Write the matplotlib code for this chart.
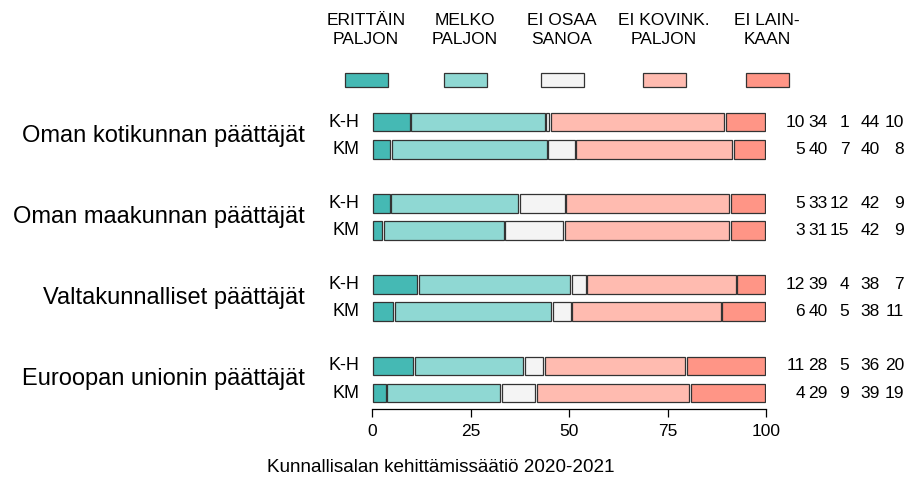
import matplotlib
matplotlib.use("Agg")
import matplotlib.pyplot as plt
from matplotlib.patches import Rectangle
import matplotlib.transforms as mtransforms
import numpy as np

plt.rcParams['font.family'] = ['Liberation Sans', 'DejaVu Sans']

groups = ["Oman kotikunnan päättäjät", "Oman maakunnan päättäjät",
          "Valtakunnalliset päättäjät", "Euroopan unionin päättäjät"]
rows = ["K-H", "KM"]
answers = ["ERITTÄIN\nPALJON", "MELKO\nPALJON", "EI OSAA\nSANOA",
           "EI KOVINK.\nPALJON", "EI LAIN-\nKAAN"]
colors = ["#45B9B4", "#8FD8D3", "#F4F4F4", "#FFBBB0", "#FF9586"]

# shares (%) per bar, order: K-H, KM for each group
erittain = [9.7, 4.7, 4.65, 2.7, 11.6, 5.6, 10.6, 3.6]
melko    = [34.3, 39.8, 32.65, 30.9, 38.9, 40.0, 27.9, 29.0]
eos      = [1.1, 7.1, 11.8, 15.0, 3.9, 5.0, 5.1, 8.9]
kovin    = [44.4, 40.0, 41.7, 42.2, 38.1, 38.1, 36.0, 39.1]
lainkaan = [10.4, 8.4, 9.2, 9.2, 7.4, 11.3, 20.4, 19.4]

series = np.array([erittain, melko, eos, kovin, lainkaan])

W, H = 919, 483
fig = plt.figure(figsize=(W / 100, H / 100), dpi=100)

# axes placement in pixels
x0, x100 = 372.3, 766.0
ytop, ybot = 95.0, 409.3
ax = fig.add_axes([x0 / W, 1 - ybot / H, (x100 - x0) / W, (ybot - ytop) / H])

ypos = []
for g in range(len(groups)):
    for i in range(len(rows)):
        ypos.append(g * 3 + i)
ypos = np.array(ypos)

gap = 0.45
left = np.zeros(len(ypos))
for k in range(series.shape[0]):
    ax.barh(ypos, series[k] - gap, left=left + gap / 2, height=0.69,
            color=colors[k], edgecolor="#333333", linewidth=0.9)
    left += series[k]

ax.set_xlim(0, 100)
ax.set_ylim(10.6, -1)
ax.set_yticks([])
for s in ["top", "right", "left"]:
    ax.spines[s].set_visible(False)
ax.spines["bottom"].set_bounds(0, 100)
ax.spines["bottom"].set_linewidth(0.9)
ax.set_xticks([0, 25, 50, 75, 100])
ax.tick_params(axis="x", length=5.5, width=0.9, pad=5, labelsize=12.5)

# row labels, group labels and values
tr_row = mtransforms.blended_transform_factory(fig.transFigure, ax.transData)
colx = [805, 827.7, 849.3, 880, 904]
for j, y in enumerate(ypos):
    ax.text(359 / W, y, rows[j % 2], transform=tr_row, ha="right",
            va="center", fontsize=13)
    for k in range(series.shape[0]):
        ax.text(colx[k] / W, y, "%d" % round(series[k][j]), transform=tr_row,
                ha="right", va="center", fontsize=12.5)
for g, name in enumerate(groups):
    ax.text(305 / W, g * 3 + 0.5, name, transform=tr_row, ha="right",
            va="center", fontsize=17)

# legend at the top
leg_x = [366, 465, 562, 664, 767]
for k in range(len(answers)):
    fig.text(leg_x[k] / W, 1 - 30 / H, answers[k], ha="center", va="center",
             fontsize=12.5, linespacing=1.35)
    fig.patches.append(Rectangle(((leg_x[k] - 21.5) / W, 1 - 87.3 / H),
                                 43 / W, 14 / H, transform=fig.transFigure,
                                 facecolor=colors[k], edgecolor="#333333",
                                 linewidth=0.9))

fig.text(441 / W, 1 - 468 / H, "Kunnallisalan kehittämissäätiö 2020-2021",
         ha="center", va="center", fontsize=13.6)

fig.savefig("out.png", dpi=100)
